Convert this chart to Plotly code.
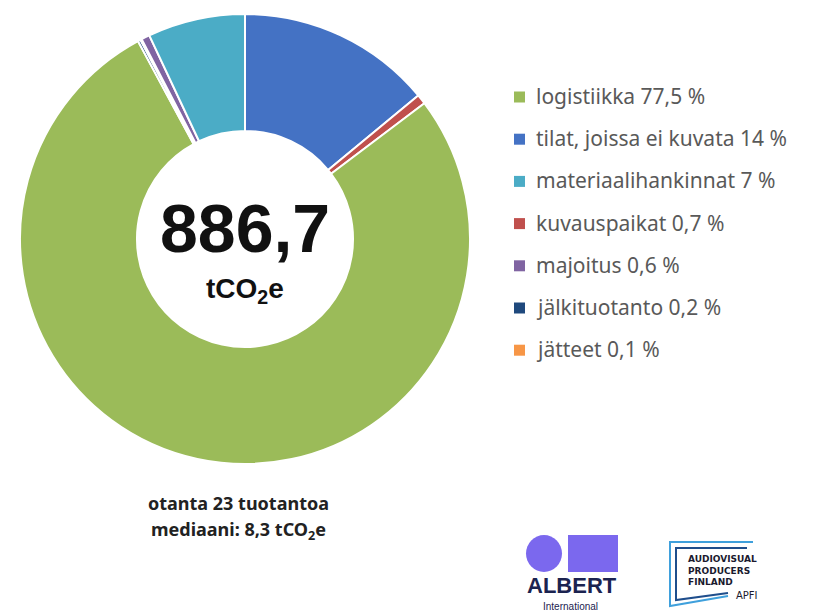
import plotly.graph_objects as go

# Data (pie order, clockwise from 12 o'clock)
labels = ["tilat, joissa ei kuvata", "kuvauspaikat", "logistiikka", "jälkituotanto",
          "jätteet", "majoitus", "materiaalihankinnat"]
values = [14, 0.7, 77.5, 0.2, 0.1, 0.6, 7]
colors = ["#4472C4", "#C0504D", "#9BBB59", "#1F497D", "#F79646", "#8064A2", "#4BACC6"]
total_text = "886,7"
unit_text = "tCO<sub>2</sub>e"
footnote_lines = ["otanta 23 tuotantoa", "mediaani: 8,3 tCO<sub>2</sub>e"]

W, H = 826, 612

def px(x):
    return x / W

def py(y):
    return 1 - y / H

fig = go.Figure()
fig.add_trace(go.Pie(
    labels=labels, values=values, sort=False, direction="clockwise", rotation=0,
    hole=0.48, marker=dict(colors=colors, line=dict(color="white", width=2)),
    textinfo="none", hoverinfo="label+percent", showlegend=False,
    domain=dict(x=[px(20), px(470)], y=[py(466), py(12)]),
))

shapes = []
annotations = []

# Custom legend, ordered by value (descending)
order = sorted(range(len(values)), key=lambda i: -values[i])
y0, step = 97, 42.2
for k, i in enumerate(order):
    yc = y0 + k * step
    shapes.append(dict(type="rect", xref="paper", yref="paper",
                       x0=px(514), x1=px(525), y0=py(yc + 5.5), y1=py(yc - 5.5),
                       fillcolor=colors[i], line=dict(width=0)))
    val = "{:g}".format(values[i]).replace(".", ",")
    annotations.append(dict(text=f"{labels[i]} {val} %", xref="paper", yref="paper",
                            x=px(534), y=py(yc - 1), xanchor="left", yanchor="middle",
                            showarrow=False,
                            font=dict(family="Noto Sans", size=21, color="#595959")))

# Centre text
annotations.append(dict(text=f"<b>{total_text}</b>", xref="paper", yref="paper",
                        x=px(245), y=py(228), xanchor="center", yanchor="middle",
                        showarrow=False,
                        font=dict(family="Liberation Sans", size=68, color="#111111")))
annotations.append(dict(text=f"<b>{unit_text}</b>", xref="paper", yref="paper",
                        x=px(245), y=py(290), xanchor="center", yanchor="middle",
                        showarrow=False,
                        font=dict(family="Liberation Sans", size=28, color="#111111")))

# Footnote
for k, line in enumerate(footnote_lines):
    annotations.append(dict(text=f"<b>{line}</b>", xref="paper", yref="paper",
                            x=px(238), y=py(503 + k * 27), xanchor="center", yanchor="middle",
                            showarrow=False,
                            font=dict(family="Noto Sans", size=18, color="#222222")))

# ALBERT logo
shapes.append(dict(type="circle", xref="paper", yref="paper",
                   x0=px(526), x1=px(562), y0=py(572), y1=py(535),
                   fillcolor="#7B68EE", line=dict(width=0)))
shapes.append(dict(type="rect", xref="paper", yref="paper",
                   x0=px(568), x1=px(618), y0=py(572), y1=py(535),
                   fillcolor="#7B68EE", line=dict(width=0)))
annotations.append(dict(text="<b>ALBERT</b>", xref="paper", yref="paper",
                        x=px(572), y=py(585), xanchor="center", yanchor="middle",
                        showarrow=False,
                        font=dict(family="Liberation Sans", size=22, color="#1B2350")))
annotations.append(dict(text="International", xref="paper", yref="paper",
                        x=px(570), y=py(606), xanchor="center", yanchor="middle",
                        showarrow=False,
                        font=dict(family="Liberation Sans", size=10, color="#1B2350")))

# APFI logo
for off, col in [(0, "#3FA0DC"), (6, "#1F4E8C")]:
    shapes.append(dict(type="path", xref="paper", yref="paper",
                       path=f"M {px(753 - off)},{py(542 + off)} L {px(670 + off)},{py(542 + off)} "
                            f"L {px(670 + off)},{py(606 - off)} L {px(728)},{py(596 - off/2)}",
                       line=dict(color=col, width=2)))
annotations.append(dict(text="<b>AUDIOVISUAL<br>PRODUCERS<br>FINLAND</b>", xref="paper", yref="paper",
                        x=px(686), y=py(570), xanchor="left", yanchor="middle", align="left",
                        showarrow=False,
                        font=dict(family="DejaVu Sans", size=9, color="#1A1A2E")))
annotations.append(dict(text="APFI", xref="paper", yref="paper",
                        x=px(734), y=py(595), xanchor="left", yanchor="middle",
                        showarrow=False,
                        font=dict(family="DejaVu Sans", size=10, color="#1A1A2E")))

fig.update_layout(width=W, height=H, margin=dict(l=0, r=0, t=0, b=0),
                  paper_bgcolor="white", plot_bgcolor="white",
                  shapes=shapes, annotations=annotations, showlegend=False)
fig.write_html("out.html")
